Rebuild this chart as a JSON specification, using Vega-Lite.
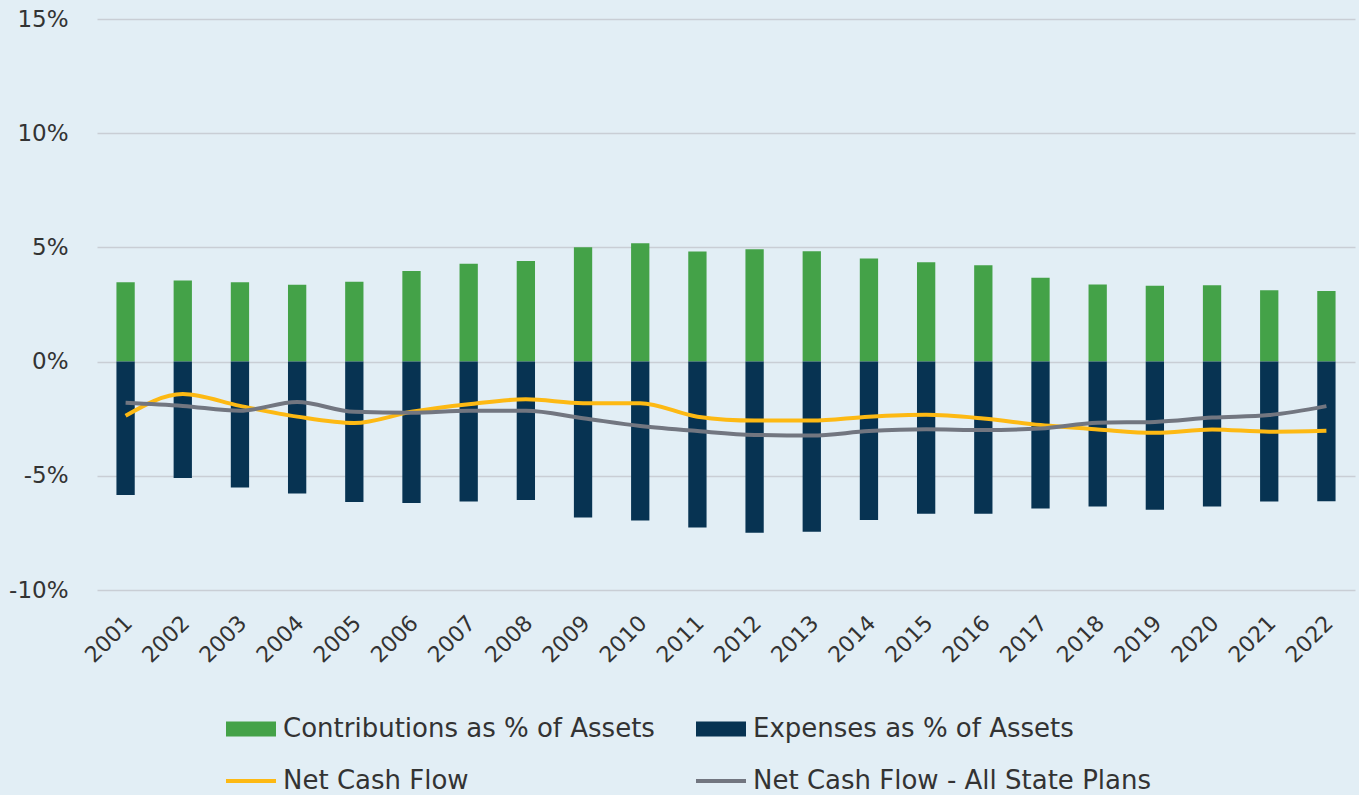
{
  "$schema": "https://vega.github.io/schema/vega-lite/v6.json",
  "width": 1258,
  "height": 571,
  "autosize": {"type": "none"},
  "padding": {"left": 97, "top": 19, "right": 4, "bottom": 205},
  "background": "#E2EEF5",
  "config": {
    "view": {"stroke": null},
    "font": "DejaVu Sans"
  },
  "data": {
    "values": [
      {"year": "2001", "series": "Contributions as % of Assets", "value": 3.47},
      {"year": "2002", "series": "Contributions as % of Assets", "value": 3.55},
      {"year": "2003", "series": "Contributions as % of Assets", "value": 3.47},
      {"year": "2004", "series": "Contributions as % of Assets", "value": 3.36},
      {"year": "2005", "series": "Contributions as % of Assets", "value": 3.50},
      {"year": "2006", "series": "Contributions as % of Assets", "value": 3.97},
      {"year": "2007", "series": "Contributions as % of Assets", "value": 4.28},
      {"year": "2008", "series": "Contributions as % of Assets", "value": 4.41},
      {"year": "2009", "series": "Contributions as % of Assets", "value": 5.01},
      {"year": "2010", "series": "Contributions as % of Assets", "value": 5.18},
      {"year": "2011", "series": "Contributions as % of Assets", "value": 4.82},
      {"year": "2012", "series": "Contributions as % of Assets", "value": 4.92},
      {"year": "2013", "series": "Contributions as % of Assets", "value": 4.83},
      {"year": "2014", "series": "Contributions as % of Assets", "value": 4.51},
      {"year": "2015", "series": "Contributions as % of Assets", "value": 4.35},
      {"year": "2016", "series": "Contributions as % of Assets", "value": 4.22},
      {"year": "2017", "series": "Contributions as % of Assets", "value": 3.67},
      {"year": "2018", "series": "Contributions as % of Assets", "value": 3.38},
      {"year": "2019", "series": "Contributions as % of Assets", "value": 3.32},
      {"year": "2020", "series": "Contributions as % of Assets", "value": 3.34},
      {"year": "2021", "series": "Contributions as % of Assets", "value": 3.12},
      {"year": "2022", "series": "Contributions as % of Assets", "value": 3.09},
      {"year": "2001", "series": "Expenses as % of Assets", "value": -5.84},
      {"year": "2002", "series": "Expenses as % of Assets", "value": -5.10},
      {"year": "2003", "series": "Expenses as % of Assets", "value": -5.51},
      {"year": "2004", "series": "Expenses as % of Assets", "value": -5.77},
      {"year": "2005", "series": "Expenses as % of Assets", "value": -6.15},
      {"year": "2006", "series": "Expenses as % of Assets", "value": -6.19},
      {"year": "2007", "series": "Expenses as % of Assets", "value": -6.13},
      {"year": "2008", "series": "Expenses as % of Assets", "value": -6.06},
      {"year": "2009", "series": "Expenses as % of Assets", "value": -6.83},
      {"year": "2010", "series": "Expenses as % of Assets", "value": -6.96},
      {"year": "2011", "series": "Expenses as % of Assets", "value": -7.26},
      {"year": "2012", "series": "Expenses as % of Assets", "value": -7.49},
      {"year": "2013", "series": "Expenses as % of Assets", "value": -7.45},
      {"year": "2014", "series": "Expenses as % of Assets", "value": -6.93},
      {"year": "2015", "series": "Expenses as % of Assets", "value": -6.66},
      {"year": "2016", "series": "Expenses as % of Assets", "value": -6.66},
      {"year": "2017", "series": "Expenses as % of Assets", "value": -6.43},
      {"year": "2018", "series": "Expenses as % of Assets", "value": -6.34},
      {"year": "2019", "series": "Expenses as % of Assets", "value": -6.49},
      {"year": "2020", "series": "Expenses as % of Assets", "value": -6.34},
      {"year": "2021", "series": "Expenses as % of Assets", "value": -6.13},
      {"year": "2022", "series": "Expenses as % of Assets", "value": -6.11},
      {"year": "2001", "series": "Net Cash Flow", "value": -2.37},
      {"year": "2002", "series": "Net Cash Flow", "value": -1.42},
      {"year": "2003", "series": "Net Cash Flow", "value": -1.94},
      {"year": "2004", "series": "Net Cash Flow", "value": -2.41},
      {"year": "2005", "series": "Net Cash Flow", "value": -2.69},
      {"year": "2006", "series": "Net Cash Flow", "value": -2.20},
      {"year": "2007", "series": "Net Cash Flow", "value": -1.87},
      {"year": "2008", "series": "Net Cash Flow", "value": -1.65},
      {"year": "2009", "series": "Net Cash Flow", "value": -1.82},
      {"year": "2010", "series": "Net Cash Flow", "value": -1.82},
      {"year": "2011", "series": "Net Cash Flow", "value": -2.41},
      {"year": "2012", "series": "Net Cash Flow", "value": -2.58},
      {"year": "2013", "series": "Net Cash Flow", "value": -2.58},
      {"year": "2014", "series": "Net Cash Flow", "value": -2.41},
      {"year": "2015", "series": "Net Cash Flow", "value": -2.33},
      {"year": "2016", "series": "Net Cash Flow", "value": -2.49},
      {"year": "2017", "series": "Net Cash Flow", "value": -2.78},
      {"year": "2018", "series": "Net Cash Flow", "value": -2.97},
      {"year": "2019", "series": "Net Cash Flow", "value": -3.12},
      {"year": "2020", "series": "Net Cash Flow", "value": -2.97},
      {"year": "2021", "series": "Net Cash Flow", "value": -3.07},
      {"year": "2022", "series": "Net Cash Flow", "value": -3.03},
      {"year": "2001", "series": "Net Cash Flow - All State Plans", "value": -1.80},
      {"year": "2002", "series": "Net Cash Flow - All State Plans", "value": -1.94},
      {"year": "2003", "series": "Net Cash Flow - All State Plans", "value": -2.15},
      {"year": "2004", "series": "Net Cash Flow - All State Plans", "value": -1.77},
      {"year": "2005", "series": "Net Cash Flow - All State Plans", "value": -2.20},
      {"year": "2006", "series": "Net Cash Flow - All State Plans", "value": -2.24},
      {"year": "2007", "series": "Net Cash Flow - All State Plans", "value": -2.15},
      {"year": "2008", "series": "Net Cash Flow - All State Plans", "value": -2.15},
      {"year": "2009", "series": "Net Cash Flow - All State Plans", "value": -2.48},
      {"year": "2010", "series": "Net Cash Flow - All State Plans", "value": -2.82},
      {"year": "2011", "series": "Net Cash Flow - All State Plans", "value": -3.04},
      {"year": "2012", "series": "Net Cash Flow - All State Plans", "value": -3.21},
      {"year": "2013", "series": "Net Cash Flow - All State Plans", "value": -3.24},
      {"year": "2014", "series": "Net Cash Flow - All State Plans", "value": -3.04},
      {"year": "2015", "series": "Net Cash Flow - All State Plans", "value": -2.96},
      {"year": "2016", "series": "Net Cash Flow - All State Plans", "value": -3.00},
      {"year": "2017", "series": "Net Cash Flow - All State Plans", "value": -2.93},
      {"year": "2018", "series": "Net Cash Flow - All State Plans", "value": -2.68},
      {"year": "2019", "series": "Net Cash Flow - All State Plans", "value": -2.64},
      {"year": "2020", "series": "Net Cash Flow - All State Plans", "value": -2.45},
      {"year": "2021", "series": "Net Cash Flow - All State Plans", "value": -2.34},
      {"year": "2022", "series": "Net Cash Flow - All State Plans", "value": -1.95}
    ]
  },
  "encoding": {
    "x": {
      "field": "year",
      "type": "ordinal",
      "title": null,
      "scale": {"paddingInner": 0.68, "paddingOuter": 0.34},
      "axis": {
        "labelAngle": -45,
        "labelFontSize": 22,
        "labelColor": "#333333",
        "labelPadding": 22,
        "labelOffset": -4,
        "ticks": false,
        "domain": false,
        "grid": false
      }
    },
    "y": {
      "field": "value",
      "type": "quantitative",
      "title": null,
      "scale": {"domain": [-10, 15], "nice": false},
      "axis": {
        "values": [-10, -5, 0, 5, 10, 15],
        "labelExpr": "datum.value + '%'",
        "labelFontSize": 23,
        "labelColor": "#333333",
        "labelPadding": 29,
        "ticks": false,
        "domain": false,
        "gridColor": "#C9CED5",
        "gridWidth": 1.5
      }
    },
    "color": {
      "field": "series",
      "type": "nominal",
      "scale": {
        "domain": ["Contributions as % of Assets", "Expenses as % of Assets", "Net Cash Flow", "Net Cash Flow - All State Plans"],
        "range": ["#44A248", "#073352", "#FDB913", "#727680"]
      },
      "legend": {
        "orient": "none",
        "legendX": 141,
        "legendY": 697,
        "direction": "horizontal",
        "columns": 2,
        "title": null,
        "labelFontSize": 26,
        "labelColor": "#333333",
        "labelOffset": 19,
        "labelLimit": 600,
        "symbolSize": 400,
        "columnPadding": 41,
        "rowPadding": 26,
        "padding": 0,
        "symbolType": "M-2.5,-0.75H2.5V0.75H-2.5Z",
        "encode": {
          "symbols": {
            "update": {
              "shape": [
                {"test": "indexof(datum.value, 'Net Cash') === 0", "value": "M-2.5,-0.2H2.5V0.2H-2.5Z"},
                {"value": "M-2.5,-0.75H2.5V0.75H-2.5Z"}
              ],
              "fill": {"scale": "color", "field": "value"},
              "stroke": {"value": "transparent"},
              "strokeWidth": {"value": 0},
              "opacity": {"value": 1}
            }
          }
        }
      }
    }
  },
  "layer": [
    {
      "transform": [{"filter": "indexof(datum.series, 'as % of Assets') > 0"}],
      "mark": {"type": "bar"},
      "encoding": {"y": {"field": "value", "type": "quantitative", "stack": null}}
    },
    {
      "transform": [{"filter": "indexof(datum.series, 'Net Cash') === 0"}],
      "mark": {"type": "line", "interpolate": "monotone", "strokeWidth": 4},
      "encoding": {}
    }
  ]
}
